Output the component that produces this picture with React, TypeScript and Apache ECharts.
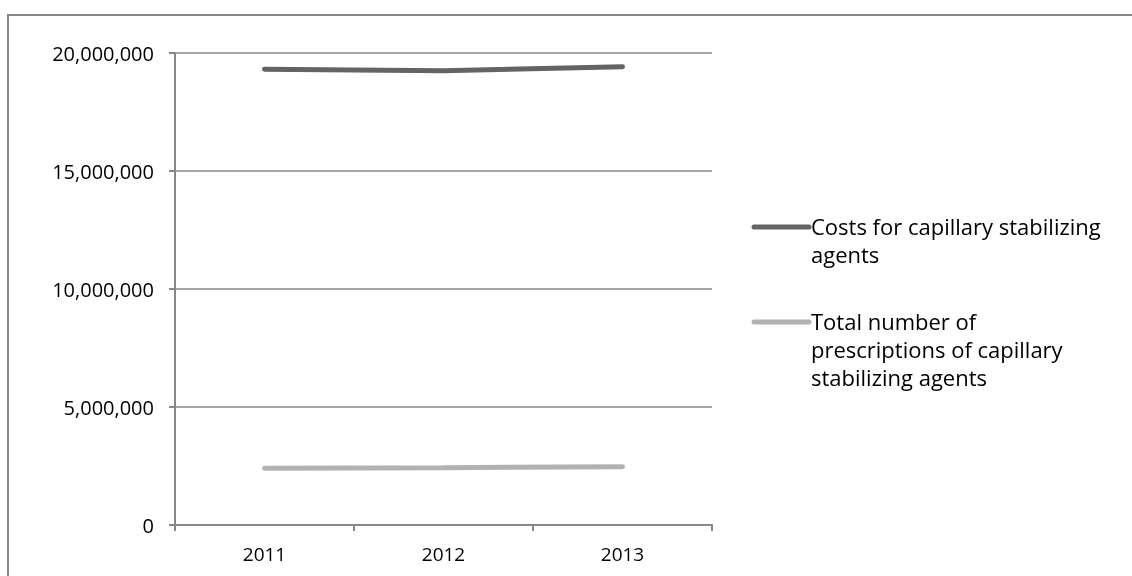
import React, { useEffect, useRef } from "react";
import * as echarts from "echarts";

const years = ["2011", "2012", "2013"];
const costs = [19310000, 19250000, 19420000];
const prescriptions = [2400000, 2430000, 2470000];
const seriesNames = ["Costs for capillary stabilizing\nagents", "Total number of\nprescriptions of capillary\nstabilizing agents"];
const seriesColors = ["#646464", "#b2b2b2"];

const FONT = "'Open Sans', sans-serif";

export default function App() {
  const ref = useRef<HTMLDivElement>(null);
  useEffect(() => {
    if (!ref.current) return;
    const chart = echarts.init(ref.current, undefined, { renderer: "svg" });
    const legendItems = seriesNames.map((name, i) => {
      const y = i === 0 ? 227 : 322;
      return {
        type: "group",
        children: [
          {
            type: "line",
            shape: { x1: 754, y1: y, x2: 809, y2: y },
            style: { stroke: seriesColors[i], lineWidth: 5, lineCap: "round" },
          },
          {
            type: "text",
            x: 811,
            y: y - 15,
            style: { text: name, font: `22px ${FONT}`, fill: "#000", lineHeight: 28, textVerticalAlign: "top" },
          },
        ],
      };
    });
    chart.setOption({
      animation: false,
      grid: { left: 175, top: 53, right: 420, bottom: 51, containLabel: false },
      xAxis: {
        type: "category",
        data: years,
        boundaryGap: true,
        axisLine: { lineStyle: { color: "#888", width: 2 } },
        axisTick: { show: true, length: 6, lineStyle: { color: "#888", width: 2 } },
        axisLabel: { color: "#000", fontSize: 19, fontFamily: FONT, margin: 19 },
      },
      yAxis: {
        type: "value",
        min: 0,
        max: 20000000,
        interval: 5000000,
        axisLine: { show: true, lineStyle: { color: "#888", width: 2 } },
        axisTick: { show: true, length: 6, lineStyle: { color: "#888", width: 2 } },
        splitLine: { lineStyle: { color: "#888", width: 1.5 } },
        axisLabel: {
          color: "#000",
          fontSize: 20,
          fontFamily: FONT,
          margin: 21,
          formatter: (v: number) => v.toLocaleString("en-US"),
        },
      },
      series: [
        {
          type: "line",
          name: seriesNames[0],
          data: costs,
          symbol: "none",
          lineStyle: { color: seriesColors[0], width: 5, cap: "round" },
        },
        {
          type: "line",
          name: seriesNames[1],
          data: prescriptions,
          symbol: "none",
          lineStyle: { color: seriesColors[1], width: 5, cap: "round" },
        },
      ],
      graphic: [
        {
          type: "rect",
          shape: { x: 8, y: 15, width: 1200, height: 700 },
          style: { fill: "none", stroke: "#888", lineWidth: 2 },
          silent: true,
        },
        ...legendItems,
      ],
    });
    return () => chart.dispose();
  }, []);
  return <div ref={ref} style={{ position: "fixed", left: 0, top: 0, width: 1132, height: 576 }} />;
}
